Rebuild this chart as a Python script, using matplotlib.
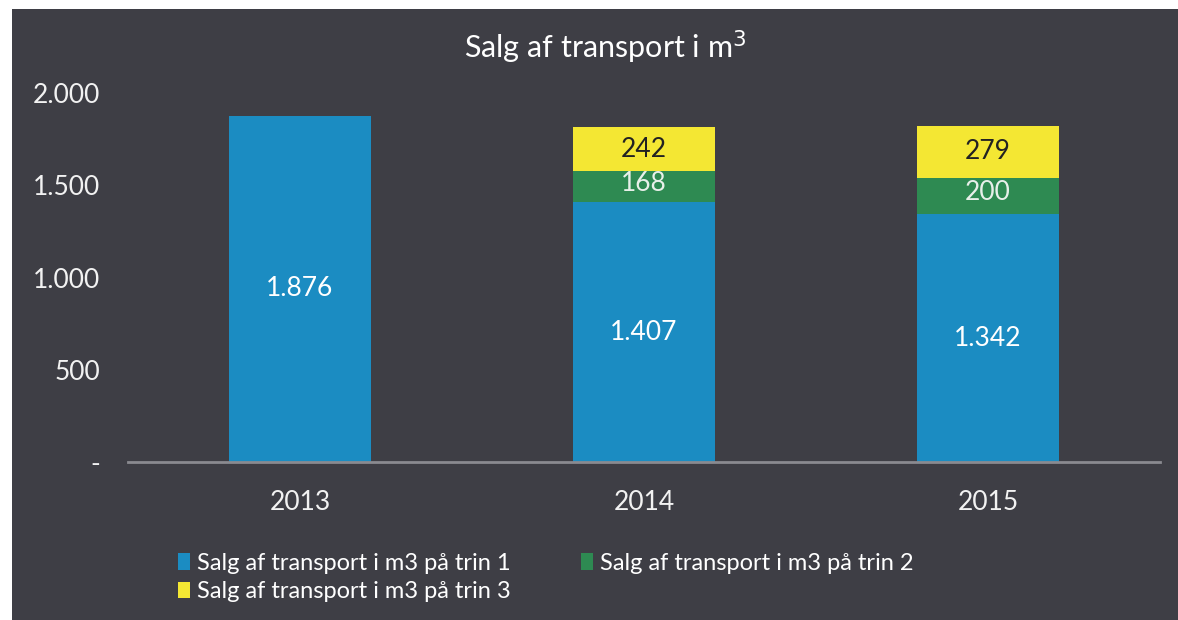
import matplotlib.pyplot as plt
from matplotlib.patches import Rectangle

years = ['2013', '2014', '2015']
trin1 = [1876, 1407, 1342]
trin2 = [0, 168, 200]
trin3 = [0, 242, 279]
series_names = ['Salg af transport i m3 på trin 1',
                'Salg af transport i m3 på trin 2',
                'Salg af transport i m3 på trin 3']
yticks = [0, 500, 1000, 1500, 2000]
ytick_labels = ['-', '500', '1.000', '1.500', '2.000']

bg = '#3e3e45'
blue = '#1b8cc2'
green = '#2e8a52'
yellow = '#f4e733'

plt.rcParams['font.family'] = ['Lato', 'DejaVu Sans']

fig = plt.figure(figsize=(11.78, 6.2), dpi=100)
fig.patch.set_facecolor('white')
fig.patches.append(Rectangle((12 / 1178, 0), 1, 1 - 9 / 620, transform=fig.transFigure,
                             facecolor=bg, edgecolor='none', zorder=-1))

ax = fig.add_axes([128 / 1178, 1 - 462 / 620, (1160 - 128) / 1178, (462 - 93) / 620])
ax.set_facecolor('none')

x = range(len(years))
w = 0.41
b1 = ax.bar(x, trin1, w, color=blue, label=series_names[0])
b2 = ax.bar(x, trin2, w, bottom=trin1, color=green, label=series_names[1])
bottom3 = [a + b for a, b in zip(trin1, trin2)]
b3 = ax.bar(x, trin3, w, bottom=bottom3, color=yellow, label=series_names[2])

def fmt(v):
    return f'{v:,}'.replace(',', '.')

for i in x:
    ax.text(i, trin1[i] / 2, fmt(trin1[i]), ha='center', va='center', color='white', fontsize=19)
    if trin2[i]:
        ax.text(i, trin1[i] + trin2[i] / 2 + 20, fmt(trin2[i]), ha='center', va='center',
                color='#e8f0ea', fontsize=19)
    if trin3[i]:
        ax.text(i, bottom3[i] + trin3[i] / 2, fmt(trin3[i]), ha='center', va='center',
                color='#222222', fontsize=19)

ax.set_xlim(-0.5, 2.5)
ax.set_ylim(0, 2000)
ax.set_yticks(yticks)
ax.set_yticklabels(ytick_labels)
ax.set_xticks(list(x))
ax.set_xticklabels(years)
ax.tick_params(axis='y', length=0, pad=20, labelsize=19, labelcolor='#f2f2f2')
ax.tick_params(axis='x', length=0, pad=20, labelsize=19, labelcolor='#f2f2f2')
for s in ['top', 'right', 'left']:
    ax.spines[s].set_visible(False)
ax.spines['bottom'].set_color('#8a8a90')
ax.spines['bottom'].set_linewidth(2)

fig.text(605 / 1178, 1 - 47 / 620, 'Salg af transport i m$^3$', ha='center', va='center',
         color='white', fontsize=22)

# column-major fill: put trin 3 under trin 1
leg = fig.legend(handles=[b1, b3, b2], loc='upper left', bbox_to_anchor=(178 / 1178, 1 - 553 / 620),
                 ncol=2, frameon=False, fontsize=17, labelcolor='white',
                 handlelength=0.5, handleheight=0.7, handletextpad=0.3,
                 columnspacing=3.0, labelspacing=0.3, borderaxespad=0, borderpad=0)

fig.savefig('out.png', dpi=100, facecolor=fig.get_facecolor())
